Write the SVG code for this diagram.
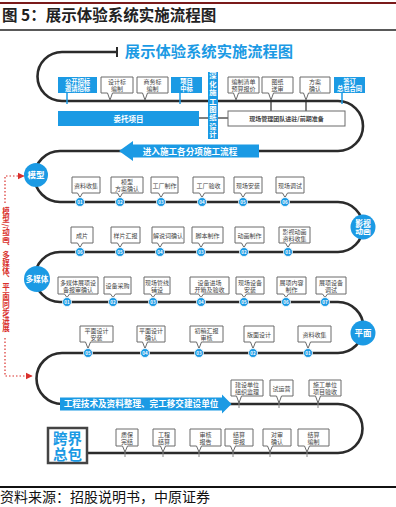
<svg xmlns="http://www.w3.org/2000/svg" width="396" height="507" viewBox="0 0 396 507">
<defs>
<style>
text{font-family:"Noto Sans CJK SC","Noto Sans",sans-serif}
.ln{fill:none;stroke:#2b2b2b;stroke-width:2.6}
.cn{fill:none;stroke:#2b2b2b;stroke-width:1.2}
.bx{fill:#fff;stroke:#6a6a6a;stroke-width:1}
.bt{font-size:6px;fill:#444;text-anchor:middle}
.bb{fill:#1B9AE4}
.wt{fill:#fff;text-anchor:middle;font-weight:bold}
.nc{fill:#1B9AE4;stroke:#fff;stroke-width:0.8}
.nt{font-size:4.5px;fill:#fff;text-anchor:middle;font-weight:bold}
.tk{stroke:#1B9AE4;stroke-width:1.5}
.gt{stroke:#888;stroke-width:1}
.rd{fill:none;stroke:#d9302c;stroke-width:1.2;stroke-dasharray:1.5 2}
.vt{writing-mode:vertical-rl;text-anchor:middle}
</style>
<marker id="ra" viewBox="0 0 10 10" refX="9" refY="5" markerWidth="6" markerHeight="6" orient="auto"><path d="M0,0 L10,5 L0,10 Z" fill="#d9302c"/></marker>
</defs>
<rect width="396" height="507" fill="#fff"/>
<line x1="0" y1="3" x2="396" y2="3" stroke="#7a1a1a" stroke-width="2"/>
<text x="2" y="21" font-size="15.5" font-weight="bold" fill="#222">图 5：展示体验系统实施流程图</text>
<line x1="0" y1="30" x2="396" y2="30" stroke="#222" stroke-width="1.5"/>
<text x="209" y="57" font-size="15.3" font-weight="bold" fill="#1B9AE4" text-anchor="middle">展示体验系统实施流程图</text>

<g id="connectors">
<path class="ln" d="M117,52 H62 A24.5,24.5 0 0 0 62,101 H338 A25,25 0 0 1 338,151 H60 A25.5,25.5 0 0 0 60,202 H338 A25,25 0 0 1 338,252 H60 A25,25 0 0 0 60,302 H338 A25.5,25.5 0 0 1 338,353 H62 A25.5,25.5 0 0 0 62,404 H338 A24.5,24.5 0 0 1 338,453 H87"/>
<line x1="117" y1="47" x2="117" y2="57" stroke="#2b2b2b" stroke-width="2"/>
<line class="tk" x1="67" y1="93" x2="67" y2="104"/>
<line class="tk" x1="180" y1="93" x2="180" y2="104"/>
<line class="tk" x1="342" y1="93" x2="342" y2="104"/>
<line class="cn" x1="199" y1="118" x2="208" y2="118"/>
<line class="cn" x1="218" y1="118" x2="228" y2="118"/>
<line class="cn" x1="271" y1="101" x2="271" y2="111"/>
<line class="cn" x1="306" y1="101" x2="306" y2="111"/>
<line class="gt" x1="239" y1="400" x2="239" y2="408"/>
<line class="gt" x1="279" y1="400" x2="279" y2="408"/>
<line class="gt" x1="318" y1="400" x2="318" y2="408"/>
<line class="gt" x1="125" y1="449" x2="125" y2="457"/>
<line class="gt" x1="163" y1="449" x2="163" y2="457"/>
<line class="gt" x1="199" y1="449" x2="199" y2="457"/>
<line class="gt" x1="233" y1="449" x2="233" y2="457"/>
<line class="gt" x1="270" y1="449" x2="270" y2="457"/>
<line class="gt" x1="307" y1="449" x2="307" y2="457"/>
<path class="rd" d="M5,203 V176 H24" marker-end="url(#ra)"/>
<path class="rd" d="M5,338 V376 H32" marker-end="url(#ra)"/>
</g>

<g id="sync-label">
<text class="vt" x="6" y="270" font-size="7.5" letter-spacing="0.6" fill="#d9302c" font-weight="bold">模型/动画、多媒体、平面同步进展</text>
</g>

<!-- stage 1 -->
<g id="n-gkzb"><rect class="bb" x="58" y="77" width="39" height="16"/><text class="wt" font-size="6.3" x="77.5" y="84">公开招标</text><text class="wt" font-size="6.3" x="77.5" y="91">邀请招标</text></g>
<g id="n-sjb"><path class="bx" d="M101,77 h32 v16 H112.5 L110,100 L107.5,93 H101 Z"/><text class="bt" x="117" y="84">设计标</text><text class="bt" x="117" y="91">编制</text></g>
<g id="n-swb"><path class="bx" d="M137,77 h31 v16 H147.5 L145,100 L142.5,93 H137 Z"/><text class="bt" x="152.5" y="84">商务标</text><text class="bt" x="152.5" y="91">编制</text></g>
<g id="n-xmzb"><rect class="bb" x="171" y="77" width="31" height="16"/><text class="wt" font-size="6.3" x="186.5" y="84">项目</text><text class="wt" font-size="6.3" x="186.5" y="91">中标</text></g>
<g id="n-bzqd"><path class="bx" d="M228,77 h31 v16 H238.5 L236,100 L233.5,93 H228 Z"/><text class="bt" x="243.5" y="84">编制清单</text><text class="bt" x="243.5" y="91">预算报价</text></g>
<g id="n-tzss"><path class="bx" d="M262,77 h31 v16 H273.5 L271,100 L268.5,93 H262 Z"/><text class="bt" x="277.5" y="84">图纸</text><text class="bt" x="277.5" y="91">送审</text></g>
<g id="n-faqr"><path class="bx" d="M300,77 h30 v16 H308.5 L306,100 L303.5,93 H300 Z"/><text class="bt" x="315" y="84">方案</text><text class="bt" x="315" y="91">确认</text></g>
<g id="n-qdht"><rect class="bb" x="334" y="77" width="31" height="16"/><text class="wt" font-size="6.3" x="349.5" y="84">签订</text><text class="wt" font-size="6.3" x="349.5" y="91">总包合同</text></g>
<g id="n-wtxm"><rect class="bb" x="58" y="111" width="141" height="15"/><text class="wt" font-size="7.5" x="128.5" y="121.5">委托项目</text></g>
<g id="n-shsg"><rect class="bb" x="208" y="72" width="10" height="67"/><text class="vt" x="213" y="105.5" font-size="7.3" letter-spacing="1.1" fill="#fff" font-weight="bold">深化施工图纸设计</text></g>
<g id="n-xcgl"><rect class="bx" x="228" y="111" width="117" height="15"/><text class="bt" font-weight="bold" font-size="6.5" x="286.5" y="121">现场管理团队进驻/前期准备</text></g>

<g id="band-1"><path class="bb" d="M259,144.5 V157.5 H133 V161 L119,151 L133,141 V144.5 Z"/><text class="wt" font-size="8.6" x="190" y="154.5">进入施工各分项施工流程</text></g>

<!-- 模型 -->
<g id="c-mx"><circle cx="36" cy="175" r="12" fill="#1B9AE4"/><text class="wt" font-size="8.5" x="36" y="178">模型</text></g>
<g id="n-m1"><path class="bx" d="M72,177 h28 v16 H82.5 L80,197.5 L77.5,193 H72 Z"/><text class="bt" x="86" y="187.5">资料收集</text><circle class="nc" cx="80" cy="202" r="4.5"/><text class="nt" x="80" y="203.6">01</text></g>
<g id="n-m2"><path class="bx" d="M111,177 h32 v16 H122.5 L120,197.5 L117.5,193 H111 Z"/><text class="bt" x="127" y="184">模型</text><text class="bt" x="127" y="191">方案确认</text><circle class="nc" cx="120" cy="202" r="4.5"/><text class="nt" x="120" y="203.6">02</text></g>
<g id="n-m3"><path class="bx" d="M151,177 h27 v16 H163.5 L161,197.5 L158.5,193 H151 Z"/><text class="bt" x="164.5" y="187.5">工厂制作</text><circle class="nc" cx="161" cy="202" r="4.5"/><text class="nt" x="161" y="203.6">03</text></g>
<g id="n-m4"><path class="bx" d="M193,177 h31 v16 H204.5 L202,197.5 L199.5,193 H193 Z"/><text class="bt" x="208.5" y="187.5">工厂验收</text><circle class="nc" cx="202" cy="202" r="4.5"/><text class="nt" x="202" y="203.6">04</text></g>
<g id="n-m5"><path class="bx" d="M234,177 h28 v16 H245.5 L243,197.5 L240.5,193 H234 Z"/><text class="bt" x="248" y="187.5">现场安装</text><circle class="nc" cx="243" cy="202" r="4.5"/><text class="nt" x="243" y="203.6">05</text></g>
<g id="n-m6"><path class="bx" d="M276,177 h28 v16 H287.5 L285,197.5 L282.5,193 H276 Z"/><text class="bt" x="290" y="187.5">现场调试</text><circle class="nc" cx="285" cy="202" r="4.5"/><text class="nt" x="285" y="203.6">06</text></g>

<!-- 影视动画 -->
<g id="c-ys"><circle cx="363" cy="227" r="12.5" fill="#1B9AE4"/><text class="wt" font-size="7.8" x="363" y="225.5">影视</text><text class="wt" font-size="7.8" x="363" y="234">动画</text></g>
<g id="n-y1"><path class="bx" d="M279,227 h31 v16 H290.5 L288,247.5 L285.5,243 H279 Z"/><text class="bt" x="294.5" y="234">影视动画</text><text class="bt" x="294.5" y="241">资料收集</text><circle class="nc" cx="288" cy="252" r="4.5"/><text class="nt" x="288" y="253.6">01</text></g>
<g id="n-y2"><path class="bx" d="M235,227 h29 v16 H246.5 L244,247.5 L241.5,243 H235 Z"/><text class="bt" x="249.5" y="237.5">动画制作</text><circle class="nc" cx="244" cy="252" r="4.5"/><text class="nt" x="244" y="253.6">02</text></g>
<g id="n-y3"><path class="bx" d="M192,227 h31 v16 H203.5 L201,247.5 L198.5,243 H192 Z"/><text class="bt" x="207.5" y="237.5">脚本制作</text><circle class="nc" cx="201" cy="252" r="4.5"/><text class="nt" x="201" y="253.6">03</text></g>
<g id="n-y4"><path class="bx" d="M152,227 h32 v16 H162.5 L160,247.5 L157.5,243 H152 Z"/><text class="bt" x="168" y="237.5">解说词确认</text><circle class="nc" cx="160" cy="252" r="4.5"/><text class="nt" x="160" y="253.6">04</text></g>
<g id="n-y5"><path class="bx" d="M111,227 h29 v16 H122.5 L120,247.5 L117.5,243 H111 Z"/><text class="bt" x="125.5" y="237.5">样片汇报</text><circle class="nc" cx="120" cy="252" r="4.5"/><text class="nt" x="120" y="253.6">05</text></g>
<g id="n-y6"><path class="bx" d="M71,227 h22 v16 H82.5 L80,247.5 L77.5,243 H71 Z"/><text class="bt" x="82" y="237.5">成片</text><circle class="nc" cx="80" cy="252" r="4.5"/><text class="nt" x="80" y="253.6">06</text></g>

<!-- 多媒体 -->
<g id="c-dmt"><circle cx="37" cy="279" r="13" fill="#1B9AE4"/><text class="wt" font-size="7.5" x="37" y="281.7">多媒体</text></g>
<g id="n-d1"><path class="bx" d="M58,277 h40 v17 H69.5 L67,297.5 L64.5,294 H58 Z"/><text class="bt" x="78" y="284.5">多媒体展项设</text><text class="bt" x="78" y="291.5">备报审确认</text><circle class="nc" cx="67" cy="302" r="4.5"/><text class="nt" x="67" y="303.6">01</text></g>
<g id="n-d2"><path class="bx" d="M104,277 h27 v17 H115.5 L113,297.5 L110.5,294 H104 Z"/><text class="bt" x="117.5" y="288">设备采购</text><circle class="nc" cx="113" cy="302" r="4.5"/><text class="nt" x="113" y="303.6">02</text></g>
<g id="n-d3"><path class="bx" d="M144,277 h26 v17 H155.5 L153,297.5 L150.5,294 H144 Z"/><text class="bt" x="157" y="284.5">现场管线</text><text class="bt" x="157" y="291.5">铺设</text><circle class="nc" cx="153" cy="302" r="4.5"/><text class="nt" x="153" y="303.6">03</text></g>
<g id="n-d4"><path class="bx" d="M190,277 h39 v17 H203.5 L201,297.5 L198.5,294 H190 Z"/><text class="bt" x="209.5" y="284.5">设备进场</text><text class="bt" x="209.5" y="291.5">开箱及验收</text><circle class="nc" cx="201" cy="302" r="4.5"/><text class="nt" x="201" y="303.6">04</text></g>
<g id="n-d5"><path class="bx" d="M236,277 h28 v17 H246.5 L244,297.5 L241.5,294 H236 Z"/><text class="bt" x="250" y="284.5">现场设备</text><text class="bt" x="250" y="291.5">安装</text><circle class="nc" cx="244" cy="302" r="4.5"/><text class="nt" x="244" y="303.6">05</text></g>
<g id="n-d6"><path class="bx" d="M277,277 h29 v17 H288.5 L286,297.5 L283.5,294 H277 Z"/><text class="bt" x="291.5" y="284.5">展项内容</text><text class="bt" x="291.5" y="291.5">制作</text><circle class="nc" cx="286" cy="302" r="4.5"/><text class="nt" x="286" y="303.6">06</text></g>
<g id="n-d7"><path class="bx" d="M316,277 h30 v17 H327.5 L325,297.5 L322.5,294 H316 Z"/><text class="bt" x="331" y="284.5">展项设备</text><text class="bt" x="331" y="291.5">调试</text><circle class="nc" cx="325" cy="302" r="4.5"/><text class="nt" x="325" y="303.6">07</text></g>

<!-- 平面 -->
<g id="c-pm"><circle cx="363" cy="333" r="12.5" fill="#1B9AE4"/><text class="wt" font-size="8.5" x="363" y="336">平面</text></g>
<g id="n-p1"><path class="bx" d="M298,326 h33 v16 H310.5 L308,348.5 L305.5,342 H298 Z"/><text class="bt" x="314.5" y="336.5">资料收集</text><circle class="nc" cx="308" cy="353" r="4.5"/><text class="nt" x="308" y="354.6">01</text></g>
<g id="n-p2"><path class="bx" d="M244,326 h30 v16 H255.5 L253,348.5 L250.5,342 H244 Z"/><text class="bt" x="259" y="336.5">版面设计</text><circle class="nc" cx="253" cy="353" r="4.5"/><text class="nt" x="253" y="354.6">02</text></g>
<g id="n-p3"><path class="bx" d="M190,326 h33 v16 H201.5 L199,348.5 L196.5,342 H190 Z"/><text class="bt" x="206.5" y="333">初稿汇报</text><text class="bt" x="206.5" y="340">审核</text><circle class="nc" cx="199" cy="353" r="4.5"/><text class="nt" x="199" y="354.6">03</text></g>
<g id="n-p4"><path class="bx" d="M137,326 h28 v16 H147.5 L145,348.5 L142.5,342 H137 Z"/><text class="bt" x="151" y="333">平面设计</text><text class="bt" x="151" y="340">确认</text><circle class="nc" cx="145" cy="353" r="4.5"/><text class="nt" x="145" y="354.6">04</text></g>
<g id="n-p5"><path class="bx" d="M80,326 h33 v16 H90.5 L88,348.5 L85.5,342 H80 Z"/><text class="bt" x="96.5" y="333">平面设计</text><text class="bt" x="96.5" y="340">安装</text><circle class="nc" cx="88" cy="353" r="4.5"/><text class="nt" x="88" y="354.6">05</text></g>

<g id="band-2"><path class="bb" d="M60,397.5 H222 V394.5 L231.5,404 L222,413.5 V410.5 H60 Z"/><text class="wt" font-size="8.6" x="141" y="407.3">工程技术及资料整理、完工移交建设单位</text></g>

<g id="n-jsdw"><path class="bx" d="M231,380 h32 v16 H241.5 L239,403 L236.5,396 H231 Z"/><text class="bt" x="247" y="387">建设单位</text><text class="bt" x="247" y="394">组织监理</text></g>
<g id="n-syy"><path class="bx" d="M270,380 h23 v16 H281.5 L279,403 L276.5,396 H270 Z"/><text class="bt" x="281.5" y="390.5">试运营</text></g>
<g id="n-sgdw"><path class="bx" d="M309,380 h32 v16 H320.5 L318,403 L315.5,396 H309 Z"/><text class="bt" x="325" y="387">施工单位</text><text class="bt" x="325" y="394">项目验收</text></g>

<g id="n-zbwj"><path class="bx" d="M116,429 h22 v17 H127.5 L125,452 L122.5,446 H116 Z"/><text class="bt" x="127" y="436.5">质保</text><text class="bt" x="127" y="443.5">完结</text></g>
<g id="n-gcjs"><path class="bx" d="M153,429 h22 v17 H165.5 L163,452 L160.5,446 H153 Z"/><text class="bt" x="164" y="436.5">工程</text><text class="bt" x="164" y="443.5">结算</text></g>
<g id="n-shbg"><path class="bx" d="M190,429 h31 v17 H201.5 L199,452 L196.5,446 H190 Z"/><text class="bt" x="205.5" y="436.5">审核</text><text class="bt" x="205.5" y="443.5">报告</text></g>
<g id="n-jssb"><path class="bx" d="M225,429 h28 v17 H235.5 L233,452 L230.5,446 H225 Z"/><text class="bt" x="239" y="436.5">结算</text><text class="bt" x="239" y="443.5">申报</text></g>
<g id="n-dsqr"><path class="bx" d="M263,429 h28 v17 H272.5 L270,452 L267.5,446 H263 Z"/><text class="bt" x="277" y="436.5">对审</text><text class="bt" x="277" y="443.5">确认</text></g>
<g id="n-jsbz"><path class="bx" d="M298,429 h31 v17 H309.5 L307,452 L304.5,446 H298 Z"/><text class="bt" x="313.5" y="436.5">结算</text><text class="bt" x="313.5" y="443.5">编制</text></g>

<g id="n-kjzb"><rect x="48" y="428" width="39" height="35" fill="#fff" stroke="#444" stroke-width="2.5"/><text x="67.5" y="444" font-size="14.5" font-weight="bold" fill="#1B9AE4" text-anchor="middle">跨界</text><text x="67.5" y="460" font-size="14.5" font-weight="bold" fill="#1B9AE4" text-anchor="middle">总包</text></g>

<line x1="0" y1="487" x2="396" y2="487" stroke="#111" stroke-width="2"/>
<text x="0" y="502" font-size="14" fill="#111">资料来源：招股说明书，中原证券</text>
</svg>
